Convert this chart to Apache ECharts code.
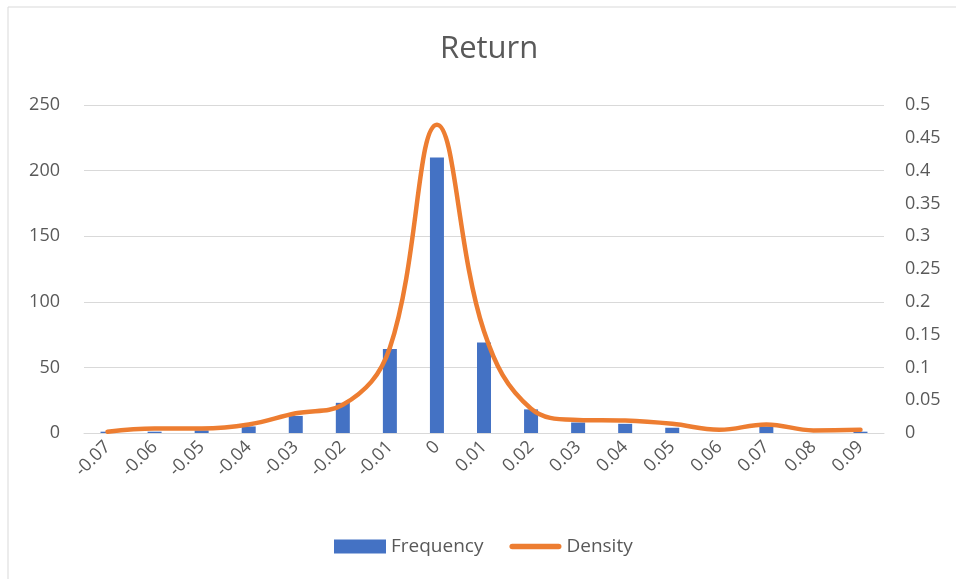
<!DOCTYPE html>
<html><head><meta charset="utf-8">
<script src="https://cdn.jsdelivr.net/npm/echarts@6/dist/echarts.min.js"></script>
<style>html,body{margin:0;padding:0;background:#fff}#c{width:956px;height:579px}</style>
</head><body><div id="c"></div>
<script>
var categories = ['-0.07','-0.06','-0.05','-0.04','-0.03','-0.02','-0.01','0','0.01','0.02','0.03','0.04','0.05','0.06','0.07','0.08','0.09'];
var frequency = [1, 1, 2, 5, 13, 23, 64, 210, 69, 18, 8, 7, 4, 0, 5, 0, 1];
var density = [0.002, 0.007, 0.007, 0.013, 0.03, 0.043, 0.13, 0.47, 0.155, 0.037, 0.02, 0.019, 0.014, 0.005, 0.013, 0.004, 0.005];
var leftTicks = [0, 50, 100, 150, 200, 250];
var rightTicks = [0, 0.05, 0.1, 0.15, 0.2, 0.25, 0.3, 0.35, 0.4, 0.45, 0.5];

var font = 'Open Sans';
var chart = echarts.init(document.getElementById('c'));
chart.setOption({
  backgroundColor: '#fff',
  animation: false,
  graphic: [
    {type: 'line', shape: {x1: 8, y1: 7, x2: 956, y2: 7}, style: {stroke: '#d9d9d9', lineWidth: 1}},
    {type: 'line', shape: {x1: 8, y1: 7, x2: 8, y2: 579}, style: {stroke: '#d9d9d9', lineWidth: 1}}
  ],
  title: {
    text: 'Return', left: 435, top: 29,
    textStyle: {fontFamily: font, fontSize: 31, fontWeight: 'normal', color: '#595959'}
  },
  legend: {
    top: 537, left: 334, padding: 0, itemGap: 26, itemWidth: 52, itemHeight: 14,
    textStyle: {fontFamily: font, fontSize: 19, color: '#595959'},
    data: [
      {name: 'Frequency', icon: 'rect'},
      {name: 'Density', icon: 'path://M3,0 L53,0 A3,3 0 0 1 53,6 L3,6 A3,3 0 0 1 3,0 Z'}
    ]
  },
  grid: {left: 84, right: 72, top: 105, bottom: 146, containLabel: false},
  xAxis: {
    type: 'category', data: categories, boundaryGap: true,
    axisLine: {show: true, lineStyle: {color: '#d9d9d9', width: 1}},
    axisTick: {show: false},
    axisLabel: {rotate: 45, fontFamily: font, fontSize: 18, color: '#595959', margin: 11, interval: 0}
  },
  yAxis: [
    {
      type: 'value', min: 0, max: 250, interval: 50,
      axisLine: {show: false}, axisTick: {show: false},
      splitLine: {lineStyle: {color: '#d9d9d9', width: 1}},
      axisLabel: {fontFamily: font, fontSize: 18, color: '#595959', margin: 24,
        formatter: function (v) { return leftTicks.indexOf(v) >= 0 ? String(v) : ''; }}
    },
    {
      type: 'value', min: 0, max: 0.5, interval: 0.05, position: 'right',
      axisLine: {show: false}, axisTick: {show: false}, splitLine: {show: false},
      axisLabel: {fontFamily: font, fontSize: 18, color: '#595959', margin: 21,
        formatter: function (v) {
          var r = Math.round(v * 100) / 100;
          return rightTicks.indexOf(r) >= 0 ? String(r) : '';
        }}
    }
  ],
  series: [
    {
      name: 'Frequency', type: 'bar', data: frequency, yAxisIndex: 0,
      barWidth: 14, itemStyle: {color: '#4472C4'}
    },
    {
      name: 'Density', type: 'line', data: density, yAxisIndex: 1,
      smooth: 0.4, symbol: 'none', showSymbol: false,
      lineStyle: {color: '#ED7D31', width: 4.5, cap: 'round'},
      itemStyle: {color: '#ED7D31'}
    }
  ]
});
</script></body></html>
